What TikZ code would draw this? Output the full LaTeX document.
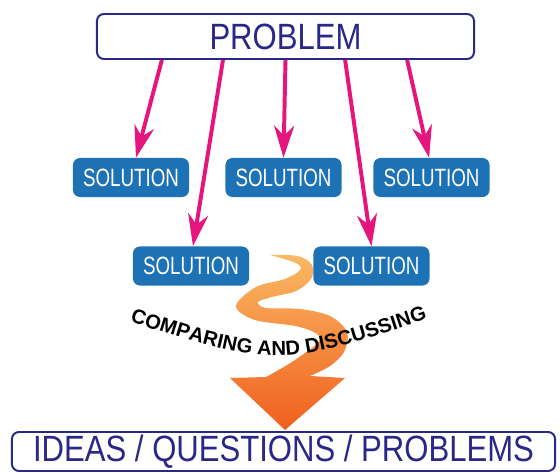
\documentclass[tikz,border=0pt]{standalone}
\usepackage{fontspec}
\usepackage{tikz}
\usetikzlibrary{arrows.meta, positioning, decorations.text}
\newfontfamily\handfont[FakeStretch=0.85]{Liberation Sans}
\newfontfamily\solfont[FakeStretch=0.75]{Liberation Sans}
\newfontfamily\arcfont{Liberation Sans}
\newcommand{\arcstyle}{\arcfont\bfseries\fontsize{14.4}{15}\selectfont}
\definecolor{probnavy}{RGB}{42,40,135}
\definecolor{arrowpink}{RGB}{230,20,125}
\definecolor{solblue}{RGB}{28,114,180}
\definecolor{ribbonlight}{RGB}{250,185,100}
\definecolor{ribbonmid}{RGB}{247,150,60}
\definecolor{ribbondark}{RGB}{240,95,30}

\begin{document}
\begin{tikzpicture}[
            x=0.025cm, y=-0.025cm,
            titlebox/.style={rectangle, draw=probnavy, line width=1.4pt, rounded corners=5pt, fill=white, text=probnavy, inner sep=0pt},
            solbox/.style={rectangle, fill=solblue, rounded corners=5pt, text=white, minimum width=2.9cm, minimum height=0.975cm, inner sep=0pt, font=\solfont\fontsize{17.8}{18}\selectfont},
            pinkarrow/.style={-{Stealth[length=0.8cm, width=0.5cm, inset=0.25cm]}, line width=2.8pt, draw=arrowpink}
        ]
        \useasboundingbox (0,0) rectangle (560,473);

        % winding arrow
        \shade[top color=ribbonlight, middle color=ribbonmid, bottom color=ribbondark]
            plot[smooth, tension=0.55] coordinates {(270,255) (298,256) (312,265) (311,279) (296,291) (272,297) (258,302) (266,308) (300,309) (330,316) (347,332) (344,352) (330,366) (310,376)}
            -- (345,378) -- (285,430) -- (230,378) -- (266,377)
            -- plot[smooth, tension=0.55] coordinates {(266,377) (295,360) (320,339) (300,327) (255,320) (236,306) (256,287) (285,279) (300,270) (296,263) (270,255)}
            -- cycle;

        \node[titlebox, minimum width=9.425cm, minimum height=1.125cm, font=\handfont\fontsize{26}{28}\selectfont] (problem) at (285.5,36.5) {PROBLEM};

        \node[solbox] (sol1) at (131,177.5) {SOLUTION};
        \node[solbox] (sol2) at (283.5,177.5) {SOLUTION};
        \node[solbox] (sol3) at (431.5,177.5) {SOLUTION};
        \node[solbox] (sol4) at (191,266) {SOLUTION};
        \node[solbox] (sol5) at (371.5,266) {SOLUTION};

        \node[titlebox, minimum width=13.575cm, minimum height=0.975cm, font=\handfont\fontsize{26}{28}\selectfont] (ideas) at (283.5,451.5) {IDEAS / QUESTIONS / PROBLEMS};

        \draw[pinkarrow] ([xshift=-3.09cm]problem.south) -- ([xshift=0.125cm]sol1.north);
        \draw[pinkarrow] ([xshift=-1.5625cm]problem.south) -- ([xshift=0.05cm]sol4.north);
        \draw[pinkarrow] (problem.south) -- (sol2.north);
        \draw[pinkarrow] ([xshift=1.49cm]problem.south) -- (sol5.north);
        \draw[pinkarrow] ([xshift=3.04cm]problem.south) -- ([xshift=-0.06cm]sol3.north);

        \path[decorate, decoration={text along path, text align=center, text={|\arcstyle|COMPARING AND DISCUSSING}}]
            (112,316) .. controls (277.5,369.5) .. (445,313);

    \end{tikzpicture}
\end{document}
